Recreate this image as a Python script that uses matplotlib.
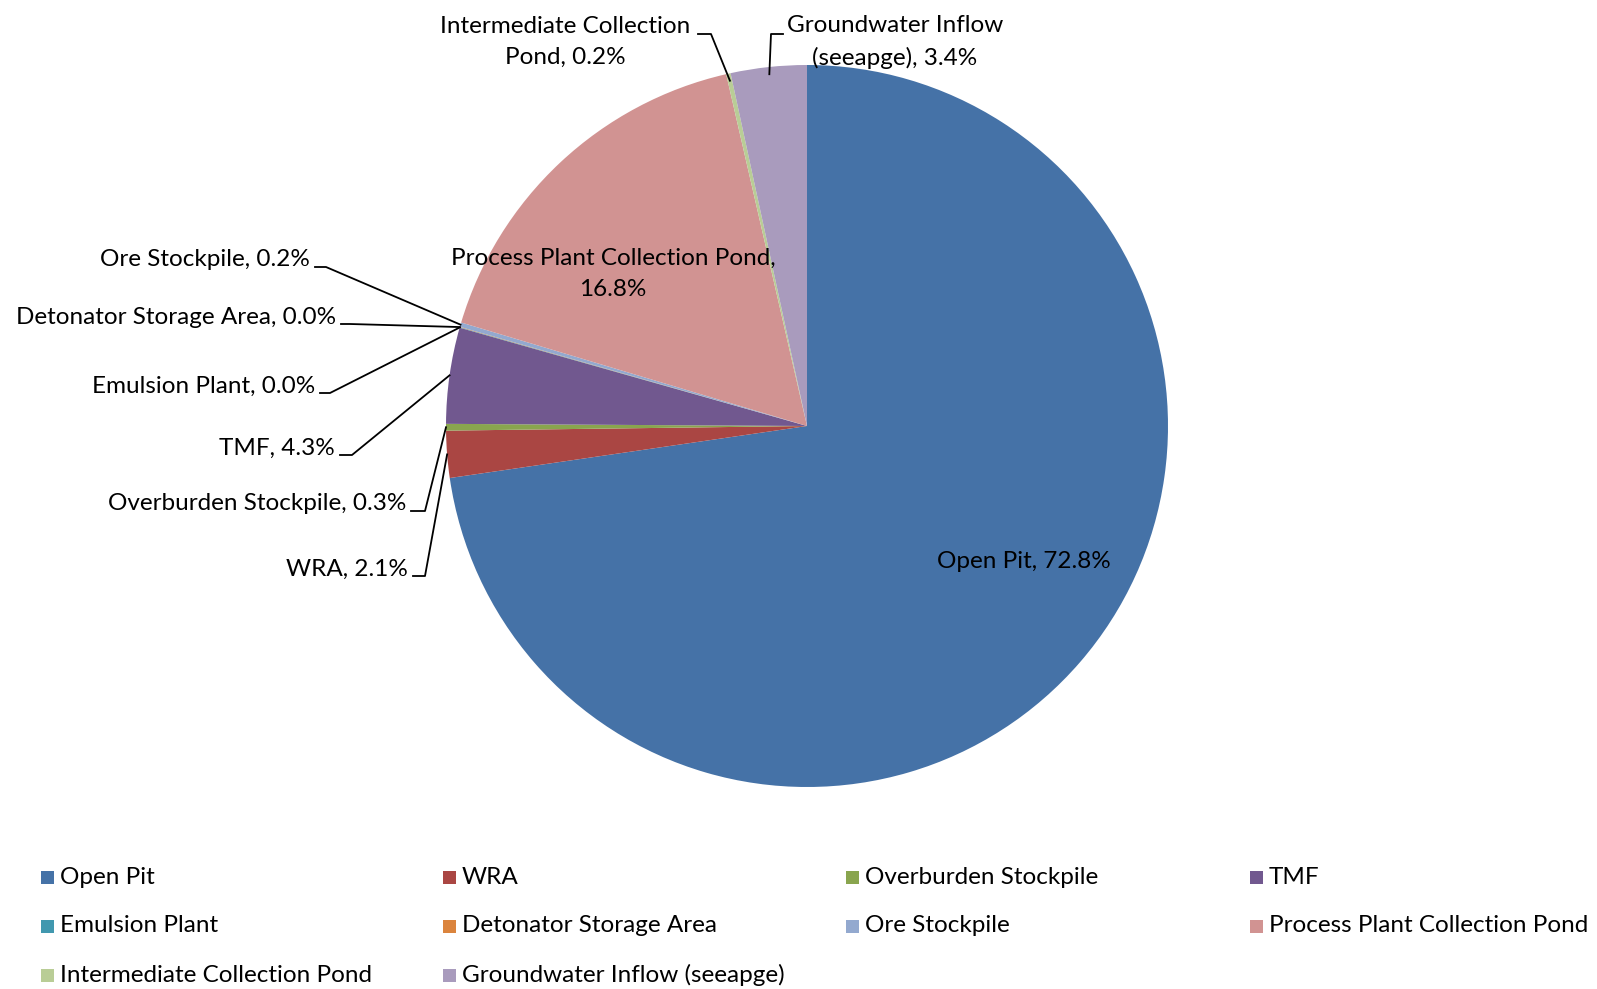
import numpy as np
import matplotlib.pyplot as plt
from matplotlib.patches import Rectangle

plt.rcParams['font.family'] = ['Lato', 'DejaVu Sans']

# pie data (percent of total), clockwise from 12 o'clock
sources = ['Open Pit', 'WRA', 'Overburden Stockpile', 'TMF', 'Emulsion Plant',
           'Detonator Storage Area', 'Ore Stockpile', 'Process Plant Collection Pond',
           'Intermediate Collection Pond', 'Groundwater Inflow (seeapge)']
shares = [72.8, 2.1, 0.3, 4.3, 0.02, 0.02, 0.2, 16.8, 0.2, 3.4]
shown_pct = ['72.8%', '2.1%', '0.3%', '4.3%', '0.0%', '0.0%', '0.2%', '16.8%', '0.2%', '3.4%']
colors = ['#4572A7', '#AA4643', '#89A54E', '#71588F', '#4198AF',
          '#DB843D', '#93A9CF', '#D19392', '#B9CD96', '#A99BBD']

W, H = 1597, 989
cx, cy, R = 807, 426, 361
fs = 17.5
ls = 1.55

fig = plt.figure(figsize=(W / 100, H / 100), dpi=100)
fig.patch.set_facecolor('white')
ax = fig.add_axes([0, 0, 1, 1])

# y axis is flipped so coordinates read like screen pixels;
# counterclock=True then runs clockwise on screen
wedges, _ = ax.pie(shares, colors=colors, startangle=270, counterclock=True,
                   center=(cx, cy), radius=R, wedgeprops=dict(linewidth=0))
ax.set_xlim(0, W)
ax.set_ylim(H, 0)
ax.set_aspect('auto')
ax.axis('off')

def edge_point(w, frac=1.0):
  th = np.deg2rad((w.theta1 + w.theta2) / 2)
  return cx + R * frac * np.cos(th), cy + R * frac * np.sin(th)

def lbl(i):
  return '%s, %s' % (sources[i], shown_pct[i])

# labels inside the pie
ax.text(1024, 561, lbl(0), ha='center', va='center', fontsize=fs)
ax.text(613, 274, 'Process Plant Collection Pond,\n16.8%', ha='center', va='center',
        fontsize=fs, linespacing=ls)

# left side labels with leader lines: (index, text right x, text y, elbow x)
left_lbls = [(6, 310, 260, 326), (5, 336, 317, 350), (4, 315, 386, 330),
             (3, 335, 448, 352), (2, 406, 504, 425), (1, 408, 569, 425)]
for i, tx, ty, ex in left_lbls:
  ax.text(tx, ty, lbl(i), ha='right', va='center', fontsize=fs)
  px, py = edge_point(wedges[i])
  ax.plot([tx + 5, ex, px], [ty + 7, ty + 7, py], color='black', lw=1.3)

# top labels
ax.text(565, 42, 'Intermediate Collection\nPond, 0.2%', ha='center', va='center',
        fontsize=fs, linespacing=ls)
px, py = edge_point(wedges[8], 0.98)
ax.plot([698, 711, px], [34, 34, py], color='black', lw=1.3)

ax.text(895, 42, 'Groundwater Inflow\n(seeapge), 3.4%', ha='center', va='center',
        fontsize=fs, linespacing=ls)
px, py = edge_point(wedges[9], 0.98)
ax.plot([783, 771, px], [34, 34, py], color='black', lw=1.3)

# legend, row-major in 4 columns
col_x = [41, 443, 846, 1250]
row_y = [877, 926, 975]
for k, (name, c) in enumerate(zip(sources, colors)):
  x = col_x[k % 4]
  y = row_y[k // 4]
  ax.add_patch(Rectangle((x, y - 6), 13, 13, facecolor=c, edgecolor='none'))
  ax.text(x + 19, y, name, ha='left', va='center', fontsize=fs)

fig.savefig('out.png', dpi=100)
